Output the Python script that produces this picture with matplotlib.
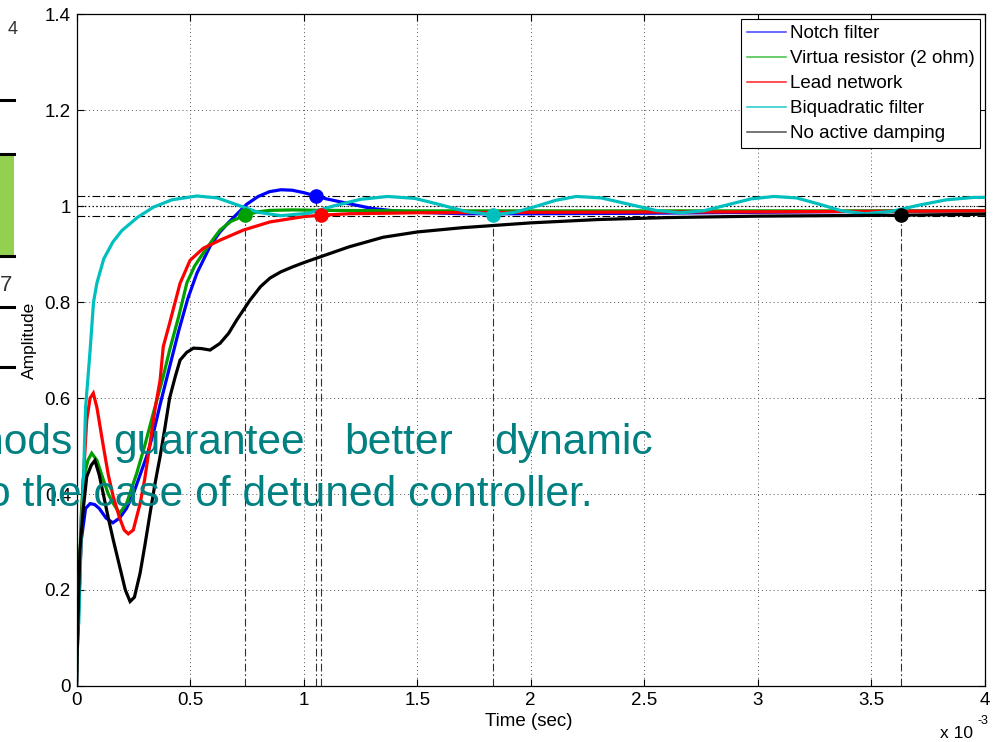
import matplotlib.pyplot as plt
from matplotlib.lines import Line2D
from matplotlib.patches import Rectangle

plt.rcParams['font.family'] = ['Liberation Sans', 'DejaVu Sans']

# time axis in units of 1e-3 s
notch_t = [0, 0.005, 0.02, 0.04, 0.06, 0.08, 0.1, 0.13, 0.16, 0.19, 0.22, 0.25, 0.28, 0.31, 0.34,
           0.37, 0.41, 0.45, 0.49, 0.53, 0.59, 0.63, 0.67, 0.71, 0.75, 0.8, 0.85, 0.9, 0.95, 1.0,
           1.055, 1.1, 1.2, 1.3, 1.4, 1.5, 1.7, 2.0, 2.5, 3.0, 3.5, 4.0]
notch_y = [0, 0.1, 0.3, 0.37, 0.38, 0.378, 0.37, 0.35, 0.34, 0.35, 0.37, 0.40, 0.44, 0.48, 0.53,
           0.59, 0.665, 0.74, 0.807, 0.86, 0.918, 0.945, 0.966, 0.985, 1.004, 1.02, 1.03, 1.034,
           1.033, 1.028, 1.021, 1.015, 1.005, 0.995, 0.99, 0.987, 0.984, 0.984, 0.985, 0.987,
           0.989, 0.99]

virt_t = [0, 0.005, 0.02, 0.03, 0.05, 0.067, 0.09, 0.118, 0.14, 0.162, 0.19, 0.22, 0.265, 0.3,
          0.338, 0.382, 0.41, 0.45, 0.486, 0.52, 0.558, 0.6, 0.632, 0.68, 0.742, 0.8, 0.85, 0.95,
          1.1, 1.5, 2.0, 3.0, 4.0]
virt_y = [0, 0.1, 0.35, 0.43, 0.47, 0.485, 0.47, 0.43, 0.4, 0.38, 0.36, 0.38, 0.443, 0.5,
          0.568, 0.645, 0.7, 0.77, 0.84, 0.875, 0.902, 0.93, 0.95, 0.968, 0.981, 0.988, 0.991,
          0.992, 0.991, 0.99, 0.99, 0.99, 0.99]

lead_t = [0, 0.005, 0.02, 0.03, 0.045, 0.06, 0.074, 0.09, 0.118, 0.14, 0.162, 0.19, 0.21, 0.228,
          0.25, 0.28, 0.3, 0.324, 0.345, 0.368, 0.382, 0.41, 0.456, 0.5, 0.558, 0.632, 0.735,
          0.852, 1.0, 1.077, 1.2, 1.5, 2.0, 3.0, 4.0]
lead_y = [0, 0.1, 0.3, 0.43, 0.554, 0.6, 0.61, 0.58, 0.5, 0.44, 0.394, 0.35, 0.325, 0.317,
          0.325, 0.38, 0.43, 0.506, 0.575, 0.637, 0.707, 0.756, 0.839, 0.887, 0.912, 0.929, 0.95,
          0.967, 0.978, 0.981, 0.984, 0.986, 0.987, 0.988, 0.99]

biquad_t = [0, 0.005, 0.01, 0.02, 0.03, 0.04, 0.05, 0.06, 0.075, 0.09, 0.12, 0.16, 0.2, 0.27,
            0.34, 0.42, 0.53, 0.62, 0.71, 0.8, 0.9, 1.02, 1.13, 1.25, 1.37, 1.49, 1.6, 1.72,
            1.84, 1.93, 2.02, 2.11, 2.2, 2.31, 2.43, 2.55, 2.66, 2.76, 2.87, 2.97, 3.07, 3.17,
            3.27, 3.37, 3.47, 3.59, 3.71, 3.83, 3.95, 4.0]
biquad_y = [0, 0.12, 0.13, 0.3, 0.42, 0.58, 0.64, 0.7, 0.8, 0.84, 0.89, 0.925, 0.949, 0.977,
            0.998, 1.013, 1.021, 1.017, 1.002, 0.987, 0.98, 0.985, 1.0, 1.014, 1.02, 1.016, 1.003,
            0.988, 0.982, 0.987, 0.999, 1.012, 1.02, 1.017, 1.004, 0.991, 0.986, 0.99, 1.003,
            1.015, 1.02, 1.017, 1.004, 0.99, 0.984, 0.989, 1.002, 1.013, 1.018, 1.018]

none_t = [0, 0.005, 0.015, 0.03, 0.045, 0.065, 0.081, 0.1, 0.118, 0.14, 0.162, 0.19, 0.215,
          0.236, 0.255, 0.28, 0.3, 0.324, 0.345, 0.368, 0.39, 0.41, 0.435, 0.456, 0.485, 0.515,
          0.55, 0.588, 0.632, 0.67, 0.706, 0.764, 0.81, 0.852, 0.9, 0.95, 1.0, 1.072, 1.2, 1.35,
          1.5, 1.7, 2.0, 2.3, 2.6, 3.0, 3.3, 3.632, 4.0]
none_y = [0, 0.11, 0.283, 0.37, 0.436, 0.46, 0.47, 0.44, 0.4, 0.35, 0.304, 0.249, 0.2, 0.176,
          0.185, 0.235, 0.29, 0.36, 0.42, 0.478, 0.54, 0.6, 0.645, 0.679, 0.695, 0.704, 0.703,
          0.7, 0.714, 0.735, 0.763, 0.804, 0.832, 0.85, 0.863, 0.873, 0.882, 0.894, 0.915, 0.935,
          0.946, 0.955, 0.965, 0.972, 0.976, 0.979, 0.98, 0.981, 0.983]

labels = ['Notch filter', 'Virtua resistor (2 ohm)', 'Lead network', 'Biquadratic filter',
          'No active damping']
colors = ['#0000ff', '#00a000', '#ff0000', '#00bfbf', '#000000']
legend_colors = ['#4040ff', '#40c040', '#ff2020', '#20c8c8', '#505050']

# settling time markers
settle_t = [1.055, 0.742, 1.077, 1.835, 3.632]
settle_y = [1.021, 0.981, 0.981, 0.981, 0.981]
band = [0.98, 1.02]
final_value = 1.0

xticks = [0, 0.5, 1, 1.5, 2, 2.5, 3, 3.5, 4]
xticklabels = ['0', '0.5', '1', '1.5', '2', '2.5', '3', '3.5', '4']
yticks = [0, 0.2, 0.4, 0.6, 0.8, 1.0, 1.2, 1.4]
yticklabels = ['0', '0.2', '0.4', '0.6', '0.8', '1', '1.2', '1.4']

fig = plt.figure(figsize=(10, 7.42), dpi=100)
ax = fig.add_axes([0.0765, 0.0755, 0.9085, 0.9055])

dashdot = (0, (7, 2.5, 1.5, 2.5))
for b in band:
    ax.axhline(b, color='black', lw=0.8, ls=dashdot, zorder=2)
ax.axhline(final_value, color='black', lw=0.9, ls=(0, (1, 2)), zorder=2)
for st, sy in zip(settle_t, settle_y):
    ax.plot([st, st], [0, sy], color='#303030', lw=0.8, ls=dashdot, zorder=2)

series = [(notch_t, notch_y), (virt_t, virt_y), (lead_t, lead_y), (biquad_t, biquad_y),
          (none_t, none_y)]
for (t, y), c in zip(series, colors):
    ax.plot(t, y, color=c, lw=2.3, solid_joinstyle='miter', zorder=3)
for st, sy, c in zip(settle_t, settle_y, colors):
    ax.plot(st, sy, 'o', color=c, markersize=9.5, zorder=4)

ax.set_xlim(0, 4)
ax.set_ylim(0, 1.4)
ax.set_xticks(xticks)
ax.set_xticklabels(xticklabels)
ax.set_yticks(yticks)
ax.set_yticklabels(yticklabels)
ax.tick_params(direction='in', length=5, width=0.8, labelsize=13.5, pad=4,
               top=True, right=True)
ax.grid(True, color='#555555', ls=(0, (1, 3)), lw=0.7)
ax.set_axisbelow(True)
for s in ax.spines.values():
    s.set_linewidth(0.9)

handles = [Line2D([], [], color=c, lw=1.1) for c in legend_colors]
leg = ax.legend(handles, labels, loc='upper right', bbox_to_anchor=(0.995, 0.992),
                borderaxespad=0, fontsize=13.5, handlelength=2.1, handletextpad=0.2,
                labelspacing=0.42, borderpad=0.3, fancybox=False, framealpha=1)
leg.get_frame().set_edgecolor('black')
leg.get_frame().set_linewidth(0.8)
leg.set_zorder(6)


def px(x, y):
    return x / 1000, 1 - y / 742


fig.text(*px(529, 722), 'Time (sec)', fontsize=13.5, ha='center', va='center')
fig.text(*px(956, 733), 'x 10', fontsize=12.5, ha='center', va='center')
fig.text(*px(977, 721), '-3', fontsize=9, ha='left', va='center')
fig.text(*px(29, 340), 'Amplitude', fontsize=12.5, rotation=90, ha='center', va='center')

# fragments of the slide around the chart
fig.patches.append(Rectangle(px(0, 256), 0.014, 102 / 742, transform=fig.transFigure,
                             facecolor='#92d050', edgecolor='none', zorder=1))
for yy in [100, 154, 256, 307, 367]:
    fig.lines.append(Line2D([0, 0.014], [1 - yy / 742] * 2, transform=fig.transFigure,
                            color='black', lw=2.2))
fig.text(*px(13, 30), '4', fontsize=13, ha='center', va='center', color='#333333')
fig.text(*px(6, 286), '7', fontsize=16, ha='center', va='center', color='#333333')

teal = '#008080'
line1 = [('hods', -20), ('guarantee', 113), ('better', 344), ('dynamic', 494)]
for word, x in line1:
    fig.text(*px(x, 454), word, fontsize=30.7, color=teal, ha='left', va='baseline', zorder=10)
fig.text(*px(-13, 506), 'o the case of detuned controller.', fontsize=30.7, color=teal,
         ha='left', va='baseline', zorder=10)

fig.savefig('out.png', dpi=100)
